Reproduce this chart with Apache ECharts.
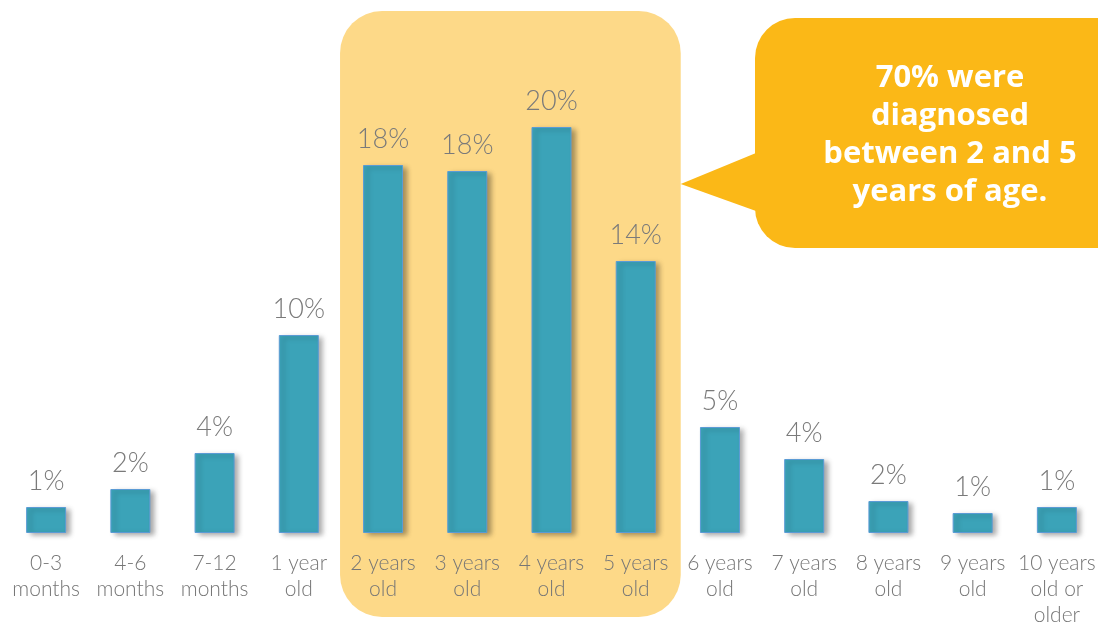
<!DOCTYPE html>
<html>
<head>
<meta charset="utf-8">
<style>
  html, body { margin: 0; padding: 0; background: #ffffff; overflow: hidden; }
  #chart { width: 1098px; height: 622px; }
</style>
<script src="https://cdn.jsdelivr.net/npm/echarts@6/dist/echarts.min.js"></script>
</head>
<body>
<div id="chart"></div>
<script>
// Age at diagnosis (share of patients, %)
const categories = [
  '0-3\nmonths', '4-6\nmonths', '7-12\nmonths', '1 year\nold',
  '2 years\nold', '3 years\nold', '4 years\nold', '5 years\nold',
  '6 years\nold', '7 years\nold', '8 years\nold', '9 years\nold',
  '10 years\nold or\nolder'
];
const shares = [1.3, 2.2, 4.0, 9.9, 18.4, 18.1, 20.3, 13.6, 5.3, 3.7, 1.6, 1.0, 1.3];

// Age groups covered by the highlighted band (first and last index)
const highlightRange = [4, 7];
const calloutText = '70% were\ndiagnosed\nbetween 2 and 5\nyears of age.';

const LABEL_FONT = 'Lato, "Noto Sans", sans-serif';

const chart = echarts.init(document.getElementById('chart'), null, { renderer: 'canvas' });

const option = {
  backgroundColor: '#ffffff',
  animation: false,
  grid: {
    left: 4, width: 1095, top: 13, bottom: 89,
    containLabel: false,
    outerBoundsMode: 'none'
  },
  xAxis: {
    type: 'category',
    data: categories,
    axisLine: { show: false },
    axisTick: { show: false },
    axisLabel: {
      interval: 0,
      margin: 17,
      color: '#767676',
      fontFamily: LABEL_FONT,
      fontWeight: 300,
      fontSize: 21,
      lineHeight: 26
    }
  },
  yAxis: {
    type: 'value',
    min: 0,
    max: 26,
    show: false,
    splitLine: { show: false }
  },
  series: [{
    type: 'bar',
    data: shares,
    barWidth: 40,
    z: 5,
    itemStyle: {
      color: '#3ba3b8',
      borderColor: '#5b9bd5',
      borderWidth: 1,
      shadowColor: 'rgba(0,0,0,0.35)',
      shadowBlur: 5,
      shadowOffsetX: 4,
      shadowOffsetY: 2
    },
    label: {
      show: true,
      position: 'top',
      distance: 12,
      color: '#7a7a7a',
      fontFamily: LABEL_FONT,
      fontWeight: 300,
      fontSize: 27,
      formatter: p => Math.round(p.value) + '%'
    }
  }]
};

chart.setOption(option);

// Highlight band behind the 2–5 year groups, plus the speech-bubble note
const bandLeft = chart.convertToPixel({ xAxisIndex: 0 }, highlightRange[0]) - 43;
const bandRight = chart.convertToPixel({ xAxisIndex: 0 }, highlightRange[1]) + 45;

chart.setOption({
  graphic: [
    {
      type: 'rect',
      z: -10,
      shape: { x: bandLeft, y: 11, width: bandRight - bandLeft, height: 606, r: 42 },
      style: { fill: '#fdd988' },
      silent: true
    },
    {
      type: 'group',
      z: 10,
      children: [
        {
          type: 'rect',
          shape: { x: 755, y: 18, width: 400, height: 230, r: 40 },
          style: { fill: '#fbb817' }
        },
        {
          type: 'polygon',
          shape: { points: [[756, 153], [bandRight, 184], [756, 211]] },
          style: { fill: '#fbb817' }
        },
        {
          type: 'text',
          x: 950,
          y: 135,
          style: {
            text: calloutText,
            fill: '#ffffff',
            font: 'bold 31px "Open Sans", "Noto Sans", sans-serif',
            lineHeight: 38,
            align: 'center',
            verticalAlign: 'middle'
          }
        }
      ]
    }
  ]
});
</script>
</body>
</html>
